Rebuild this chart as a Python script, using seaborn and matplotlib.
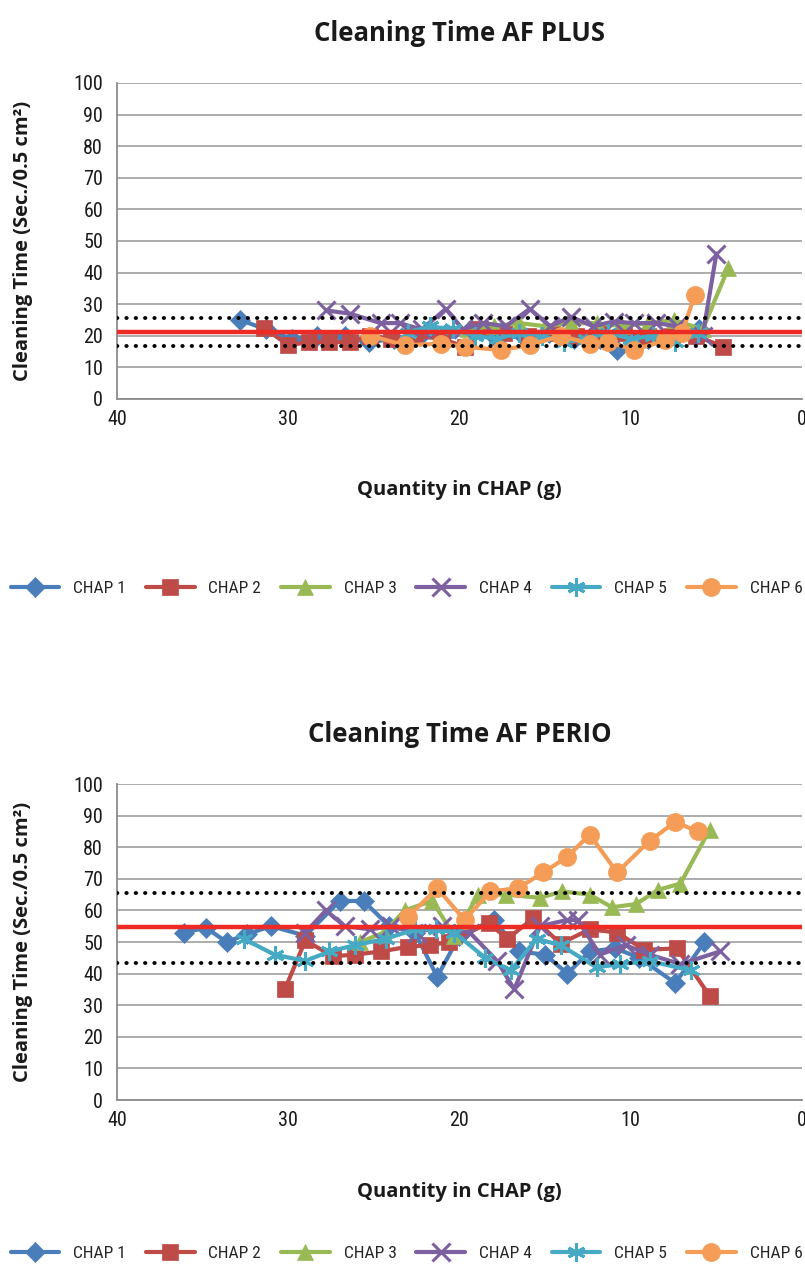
import matplotlib
matplotlib.use("Agg")
import matplotlib.pyplot as plt
import seaborn as sns
import numpy as np
import pandas as pd

sns.set_style("white")
plt.rcParams['font.family'] = ['Open Sans', 'DejaVu Sans']
NARROW = ['Liberation Sans Narrow', 'Roboto Condensed', 'Open Sans', 'DejaVu Sans']

series_names = ["CHAP 1", "CHAP 2", "CHAP 3", "CHAP 4", "CHAP 5", "CHAP 6"]
colors = ["#4A7EBB", "#BE4B48", "#98B954", "#7D60A0", "#46AAC5", "#F59D56"]
markers = ["D", "s", "^", "x", (6, 2, 0), "o"]
msizes = [10, 11, 12, 13, 13, 13]

# ---- AF PLUS data ----
plus_x1 = [32.8, 31.3, 29.8, 28.3, 26.7, 25.3, 23.8, 22.3, 20.8, 19.3, 17.8, 16.3, 14.8, 13.3, 11.8, 10.8, 9.0, 7.5, 6.0]
plus_y1 = [25, 22, 19, 20, 20, 18, 19, 20, 21, 22, 19, 20, 21, 19, 19, 15.5, 19, 20, 22]
plus_x2 = [31.4, 30.0, 28.8, 27.6, 26.4, 25.2, 24.0, 22.6, 21.0, 19.7, 18.8, 17.4, 16.0, 14.6, 13.2, 11.8, 10.4, 9.0, 7.6, 6.2, 4.6]
plus_y2 = [22.5, 17, 18, 18, 18, 20, 19, 20, 19, 16.5, 22, 21, 20, 21, 20, 21, 21, 20, 20, 20, 16.5]
plus_x3 = [19.5, 18.0, 16.5, 15.0, 13.5, 12.0, 10.5, 9.0, 7.5, 5.8, 4.3]
plus_y3 = [22, 23, 24, 23, 24, 24, 23, 24, 25, 22, 41.5]
plus_x4 = [27.8, 26.4, 24.6, 23.5, 22.2, 20.8, 19.8, 18.6, 17.3, 15.9, 14.7, 13.5, 12.2, 11.0, 9.8, 8.5, 7.3, 5.8, 5.0]
plus_y4 = [28, 27, 24, 24, 22, 28.5, 22, 24, 23, 28.5, 23, 26, 23, 24.5, 24, 24, 23, 20, 46]
plus_x5 = [23.0, 21.7, 20.4, 19.1, 17.8, 16.5, 15.2, 13.9, 12.6, 11.3, 10.0, 8.7, 7.4, 6.1]
plus_y5 = [21, 23, 22, 20, 19, 21, 20, 18, 19, 21, 19, 20, 18, 21]
plus_x6 = [25.2, 23.2, 21.1, 19.7, 17.6, 15.9, 14.1, 12.4, 11.3, 9.8, 8.0, 7.0, 6.25]
plus_y6 = [20, 17, 17.5, 16.5, 15.5, 17, 20, 17.5, 18, 15.5, 18.5, 21, 33]
plus_mean, plus_low, plus_high = 21.2, 16.8, 25.5

# ---- AF PERIO data ----
perio_x1 = [36.1, 34.8, 33.6, 32.4, 31.0, 29.0, 27.0, 25.6, 24.1, 22.6, 21.3, 20.0, 18.0, 16.5, 15.0, 13.7, 12.4, 10.9, 9.5, 7.4, 5.7]
perio_y1 = [53, 54.5, 50, 52.5, 55, 52, 63, 63, 55, 53, 39, 52, 57, 47, 46, 40, 47, 48, 45, 37, 50]
perio_x2 = [30.2, 29.0, 27.4, 26.1, 24.6, 23.0, 21.7, 20.6, 18.3, 17.2, 15.7, 14.1, 12.4, 10.8, 9.2, 7.3, 5.4]
perio_y2 = [35, 50.5, 45.5, 46, 47, 48.5, 49, 50, 56, 51, 57.5, 49.5, 54, 53, 47.5, 48, 33]
perio_x3 = [25.8, 24.4, 23.2, 21.6, 20.3, 18.9, 17.3, 15.3, 14.0, 12.4, 11.1, 9.7, 8.4, 7.1, 5.4]
perio_y3 = [50, 53, 60, 63, 52, 65, 65, 64, 66, 65, 61, 62, 66.5, 68.5, 85.5]
perio_x4 = [29.0, 27.8, 26.7, 25.2, 24.0, 22.5, 21.0, 19.4, 17.8, 16.8, 15.3, 13.7, 13.1, 11.8, 10.3, 8.9, 7.1, 4.8]
perio_y4 = [53, 60, 55, 54, 55, 53, 55, 53, 44, 35, 55, 57, 57, 46, 49, 46, 43, 47]
perio_x5 = [32.6, 30.8, 29.0, 27.6, 26.1, 24.3, 22.6, 21.4, 20.3, 18.5, 17.0, 15.5, 14.1, 12.0, 10.6, 8.9, 6.5]
perio_y5 = [51, 46, 44, 47, 49, 51, 54, 54, 53, 45, 41, 51, 49, 42, 43, 44, 41]
perio_x6 = [23.0, 21.3, 19.7, 18.2, 16.6, 15.1, 13.7, 12.4, 10.8, 8.9, 7.4, 6.1]
perio_y6 = [58, 67, 57, 66, 67, 72, 77, 84, 72, 82, 88, 85]
perio_mean, perio_low, perio_high = 54.7, 43.3, 65.5

x_ticks = [40, 30, 20, 10, 0]
y_ticks = list(range(0, 101, 10))

plus_series = [(plus_x1, plus_y1), (plus_x2, plus_y2), (plus_x3, plus_y3),
               (plus_x4, plus_y4), (plus_x5, plus_y5), (plus_x6, plus_y6)]
perio_series = [(perio_x1, perio_y1), (perio_x2, perio_y2), (perio_x3, perio_y3),
                (perio_x4, perio_y4), (perio_x5, perio_y5), (perio_x6, perio_y6)]

fig = plt.figure(figsize=(8.05, 12.84), dpi=100)
ax1 = fig.add_axes([0.1453, 0.6893, 0.851, 0.2461])
ax2 = fig.add_axes([0.1453, 0.1433, 0.851, 0.2461])

def draw(ax, series, mean, low, high, title):
    for i, (xs, ys) in enumerate(series):
        df = pd.DataFrame({"x": xs, "y": ys})
        sns.lineplot(data=df, x="x", y="y", ax=ax, sort=False, color=colors[i],
                     marker=markers[i], markersize=msizes[i], linewidth=3.0,
                     markeredgewidth=2.2 if i in (3, 4) else 0.5,
                     markeredgecolor=colors[i], zorder=3, label=series_names[i],
                     legend=False)
    ax.axhline(mean, color="#EE2A24", linewidth=3.2, zorder=4)
    ax.axhline(low, color="black", linewidth=2.8, linestyle=(0, (0.1, 2.3)),
               dash_capstyle="round", zorder=4)
    ax.axhline(high, color="black", linewidth=2.8, linestyle=(0, (0.1, 2.3)),
               dash_capstyle="round", zorder=4)
    ax.set_xlim(40, 0)
    ax.set_ylim(0, 100)
    ax.set_xticks(x_ticks)
    ax.set_yticks(y_ticks)
    ax.set_xticklabels([str(t) for t in x_ticks], fontsize=14.5, family=NARROW)
    ax.set_yticklabels([str(t) for t in y_ticks], fontsize=14.5, family=NARROW)
    ax.grid(axis="y", color="#A6A6A6", linewidth=1.3)
    ax.grid(axis="x", visible=False)
    for s in ["top", "right"]:
        ax.spines[s].set_visible(False)
    for s in ["left", "bottom"]:
        ax.spines[s].set_color("#8C8C8C")
        ax.spines[s].set_linewidth(1.3)
    ax.tick_params(axis="both", length=5, color="#8C8C8C", width=1.2, pad=5,
                   labelcolor="#1a1a1a")
    ax.tick_params(axis="x", pad=8, length=0)
    ax.set_xlabel("Quantity in CHAP (g)", fontsize=14.5, fontweight="bold",
                  labelpad=37, color="#1a1a1a")
    ax.set_ylabel("Cleaning Time (Sec./0.5 cm\u00b2)", fontsize=14.5,
                  fontweight="bold", labelpad=29, color="#1a1a1a")
    ax.set_title(title, fontsize=18.5, fontweight="bold", pad=30, color="#1a1a1a")
    ax.set_axisbelow(True)

draw(ax1, plus_series, plus_mean, plus_low, plus_high, "Cleaning Time AF PLUS")
draw(ax2, perio_series, perio_mean, perio_low, perio_high, "Cleaning Time AF PERIO")

for ax, yleg in [(ax1, 0.542), (ax2, 0.024)]:
    h = ax.get_lines()[:6]
    fig.legend(h, series_names, loc="center", bbox_to_anchor=(0.505, yleg), ncol=6,
               frameon=False, handlelength=2.8, columnspacing=1.15, handletextpad=0.8,
               borderpad=0.1, borderaxespad=0.0,
               prop={"family": NARROW, "size": 12.5})

fig.savefig("out.png", dpi=100)
